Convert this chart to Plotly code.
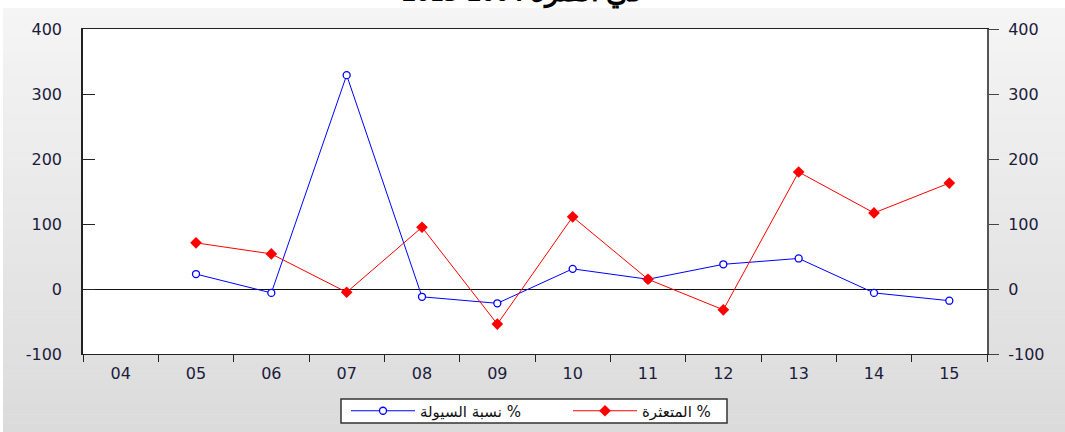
import plotly.graph_objects as go

years = ['04', '05', '06', '07', '08', '09', '10', '11', '12', '13', '14', '15']
liquidity_pct = [None, 23, -6, 329, -12, -22, 31, 15, 38, 47, -6, -18]
npl_pct = [None, 71, 54, -5, 95, -54, 111, 15, -32, 180, 117, 163]
y_ticks = [-100, 0, 100, 200, 300, 400]
y_tick_labels = [str(v) for v in y_ticks]

W, H = 1065, 432
L, R, T, B = 83, 987, 29, 354


def px_x(p):
    return (p - L) / (R - L)


def px_y(p):
    return (B - p) / (B - T)


fig = go.Figure()
fig.add_trace(go.Scatter(
    x=years, y=liquidity_pct, name='نسبة السيولة %', mode='lines+markers',
    line=dict(color='#0000ff', width=1),
    marker=dict(symbol='circle', size=7, color='white', line=dict(color='#0000ff', width=1.3)),
    yaxis='y', connectgaps=False))
fig.add_trace(go.Scatter(
    x=years, y=npl_pct, name='المتعثرة %', mode='lines+markers',
    line=dict(color='#ff0000', width=1),
    marker=dict(symbol='diamond', size=9, color='#ff0000'),
    yaxis='y2', connectgaps=False))

# gradient background panel
shapes = []
n = 48
top_px, bot_px = 8, 432
for i in range(n):
    y0 = top_px + (bot_px - top_px) * i / n
    y1 = top_px + (bot_px - top_px) * (i + 1) / n
    c = round(245 - (245 - 219) * (i + 0.5) / n)
    shapes.append(dict(type='rect', xref='paper', yref='paper', layer='below',
                       x0=px_x(3), x1=px_x(W + 2), y0=px_y(y1 + 0.5), y1=px_y(y0),
                       fillcolor=f'rgb({c},{c},{c})', line=dict(width=0)))
shapes.append(dict(type='rect', xref='paper', yref='paper', layer='below',
                   x0=0, x1=1, y0=0, y1=1, fillcolor='white', line=dict(width=0)))
# legend frame
shapes.append(dict(type='rect', xref='paper', yref='paper', layer='above',
                   x0=px_x(341), x1=px_x(727), y0=px_y(423), y1=px_y(399),
                   fillcolor='white', line=dict(color='#333333', width=1.5)))

tickfont = dict(family='DejaVu Sans, Arial', size=16, color='#1c1c3c')

fig.update_layout(
    width=W, height=H,
    margin=dict(l=L, r=W - R, t=T, b=H - B, pad=0, autoexpand=False),
    paper_bgcolor='white', plot_bgcolor='white',
    shapes=shapes,
    showlegend=True,
    legend=dict(orientation='h', xref='container', yref='container',
                x=346 / W, xanchor='left', y=(H - 411) / H, yanchor='middle',
                bgcolor='rgba(0,0,0,0)', borderwidth=0,
                font=dict(family='DejaVu Sans, Arial', size=15, color='#111111'),
                traceorder='normal', itemwidth=64, entrywidth=143,
                tracegroupgap=0),
    xaxis=dict(type='category', range=[-0.5, 11.5], tickson='boundaries',
               ticks='outside', ticklen=7, tickwidth=1.3, tickcolor='#222222',
               showline=True, linecolor='#222222', linewidth=1.3, mirror=True,
               showgrid=False, zeroline=False, tickfont=tickfont, ticklabelstandoff=5),
    yaxis=dict(range=[-100, 400], tickvals=y_ticks, ticktext=y_tick_labels,
               ticks='inside', ticklen=12,
               tickcolor='#222222', tickwidth=1, showline=True, linecolor='#222222',
               linewidth=1.5, showgrid=False, zeroline=True, zerolinecolor='#111111',
               zerolinewidth=1, tickfont=tickfont, ticklabelstandoff=16),
    yaxis2=dict(range=[-100, 400], tickvals=y_ticks, ticktext=y_tick_labels,
                overlaying='y', side='right',
                ticks='outside', ticklen=10, tickcolor='#444444', tickwidth=1,
                showline=True, linecolor='#555555', linewidth=2, showgrid=False,
                zeroline=False, tickfont=tickfont, ticklabelstandoff=6),
    annotations=[dict(text='<b>في الفترة 2004-2015</b>', xref='paper', yref='paper',
                      x=px_x(522), y=1, xanchor='center', yanchor='bottom', yshift=18,
                      showarrow=False,
                      font=dict(family='Liberation Serif, DejaVu Serif', size=28, color='black'))],
)

fig.write_html('out.html')
